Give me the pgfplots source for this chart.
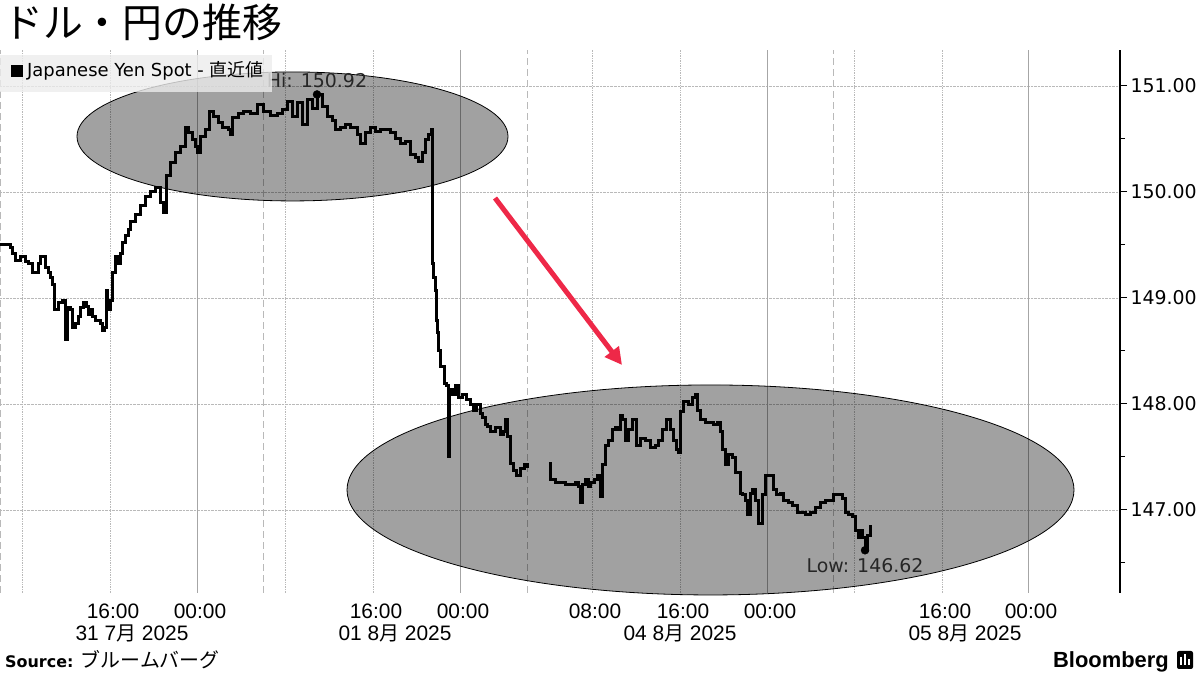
\documentclass[border=0pt]{standalone}
\usepackage{fontspec}
\setmainfont{DejaVu Sans}
\newfontfamily\jp{Noto Sans CJK JP}
\newfontfamily\lib{Liberation Sans}
\usepackage{pgfplots}
\pgfplotsset{compat=1.18}
\usetikzlibrary{arrows.meta}
\definecolor{arrowred}{RGB}{238,40,72}
\definecolor{gridgray}{RGB}{185,185,185}

\begin{document}
\begin{tikzpicture}[x=1bp,y=1bp]
\useasboundingbox (0,0) rectangle (1200,675);
\begin{axis}[
  at={(0bp,82bp)}, anchor=south west,
  scale only axis, width=1120bp, height=543bp,
  xmin=0, xmax=1120, ymin=146.217, ymax=151.3396,
  axis y line*=right, axis x line*=bottom,
  x axis line style={draw=none},
  y axis line style={line width=1.2bp},
  clip=false,
  ytick={147,148,149,150,151},
  minor ytick={146.5,147.5,148.5,149.5,150.5},
  yticklabel={\pgfmathprintnumber[fixed,fixed zerofill,precision=2,assume math mode=true]{\tick}},
  y tick label style={font=\fontsize{19}{19}\selectfont},
  tick align=outside, major tick length=7bp, minor tick length=5bp,
  every tick/.style={black, line width=1bp},
  xtick={110,197,373,460,592,680,767,942,1028},
  xticklabels={16:00,00:00,16:00,00:00,08:00,16:00,00:00,16:00,00:00},
  x tick label style={font=\lib\fontsize{21}{21}\selectfont, xshift=3bp},
  xtick style={draw=none},
  ymajorgrids, grid style={densely dotted, gridgray, line width=0.7bp},
]
% vertical gridlines
\pgfplotsinvokeforeach{22,110,285,373,592,680,854,942}{
  \draw[densely dotted, gridgray, line width=0.7bp] (axis cs:#1,146.217) -- (axis cs:#1,151.3396);}
\pgfplotsinvokeforeach{197,460,767,1028}{
  \draw[gray!70, line width=0.8bp] (axis cs:#1,146.217) -- (axis cs:#1,151.3396);}
\pgfplotsinvokeforeach{0.6,263,527,833}{
  \draw[gridgray, line width=0.8bp, dash pattern=on 7bp off 4bp] (axis cs:#1,146.217) -- (axis cs:#1,151.3396);}
% highlight ellipses
\draw[fill=black, fill opacity=0.37, draw=black, line width=0.8bp]
  (axis cs:292.5,150.524) ellipse [x radius=215.5bp, y radius=64.5bp];
\draw[fill=black, fill opacity=0.37, draw=black, line width=0.8bp]
  (axis cs:710.5,147.189) ellipse [x radius=363.5bp, y radius=105bp];
% arrow
\draw[-{Triangle[length=17bp,width=17bp]}, line width=5bp, arrowred]
  (axis cs:495,149.943) -- (axis cs:622,148.368);

\addplot[const plot, black, line width=3bp] coordinates {
(0,149.500) (6,149.500) (10,149.472) (12,149.424) (15,149.358) (20,149.387)
(25,149.340) (28,149.330) (32,149.236) (38,149.330) (40,149.387) (45,149.292)
(48,149.245) (50,149.198) (52,149.123) (54,148.887) (58,148.962) (62,148.981)
(64,148.981) (65,148.604) (66,148.604) (67,148.906) (70,148.887) (72,148.726)
(75,148.764) (78,148.821) (80,148.906) (83,148.953) (86,148.915) (88,148.840)
(90,148.887) (92,148.821) (95,148.792) (98,148.792) (100,148.764) (102,148.698)
(104,148.717) (106,149.075) (107,148.887) (110,148.981) (112,149.245) (115,149.387)
(118,149.330) (120,149.424) (122,149.519) (125,149.594) (128,149.642) (130,149.717)
(135,149.783) (140,149.877) (145,149.953) (150,150.000) (155,150.047) (158,150.047)
(160,149.900) (163,149.810) (166,150.160) (170,150.274) (175,150.368) (180,150.425)
(185,150.604) (188,150.557) (192,150.491) (195,150.425) (197,150.368) (200,150.519)
(205,150.585) (209,150.755) (213,150.708) (218,150.660) (222,150.613) (228,150.585)
(230,150.538) (232,150.698) (238,150.745) (243,150.755) (250,150.745) (257,150.821)
(263,150.755) (270,150.726) (277,150.745) (282,150.774) (287,150.849) (292,150.708)
(297,150.840) (302,150.632) (307,150.868) (312,150.792) (317,150.920) (322,150.802)
(327,150.708) (332,150.679) (335,150.585) (340,150.613) (345,150.632) (350,150.613)
(357,150.538) (360,150.462) (365,150.557) (370,150.613) (375,150.566) (380,150.585)
(385,150.585) (390,150.557) (395,150.509) (400,150.462) (405,150.472) (410,150.349)
(415,150.321) (418,150.283) (422,150.377) (425,150.491) (428,150.538) (431,150.585)
(432,149.330) (433,149.198) (435,149.075) (436,148.792) (437,148.670) (438,148.509)
(440,148.349) (444,148.198) (446,148.179) (448,147.500) (449,148.132) (452,148.085)
(455,148.179) (458,148.057) (462,148.085) (466,148.038) (470,147.991) (473,147.943)
(476,147.991) (480,147.915) (482,147.877) (485,147.802) (487,147.783) (490,147.736)
(495,147.774) (500,147.708) (503,147.736) (505,147.849) (507,147.689) (510,147.443)
(513,147.377) (516,147.330) (520,147.396) (524,147.425) (527,147.396)
};
\addplot[const plot, black, line width=3bp] coordinates {
(549,147.443) (550,147.283) (555,147.264) (560,147.255) (565,147.236) (570,147.245)
(575,147.255) (578,147.217) (580,147.066) (582,147.236) (585,147.283) (588,147.217)
(590,147.264) (594,147.283) (597,147.330) (600,147.123) (602,147.425) (605,147.613)
(608,147.660) (612,147.755) (615,147.774) (618,147.755) (620,147.896) (622,147.849)
(625,147.660) (628,147.755) (632,147.849) (636,147.613) (640,147.679) (645,147.660)
(650,147.585) (655,147.613) (658,147.660) (662,147.755) (666,147.849) (670,147.755)
(673,147.660) (676,147.566) (678,147.538) (680,147.925) (683,148.019) (688,147.991)
(692,148.057) (695,148.085) (697,147.943) (700,147.849) (705,147.830) (710,147.821)
(713,147.802) (717,147.821) (720,147.736) (722,147.566) (725,147.425) (728,147.519)
(732,147.491) (735,147.349) (740,147.160) (742,147.142) (745,147.094) (747,146.953)
(750,147.160) (752,147.189) (755,147.094) (758,146.877) (762,147.142) (765,147.330)
(770,147.330) (773,147.189) (776,147.142) (780,147.160) (783,147.094) (788,147.066)
(792,147.047) (797,146.981) (800,146.981) (805,146.953) (810,146.972) (815,147.019)
(820,147.066) (825,147.094) (828,147.094) (833,147.142) (838,147.142) (842,147.113)
(845,146.972) (848,146.953) (852,146.934) (855,146.811) (858,146.736) (860,146.811)
(862,146.736) (865,146.620) (867,146.764) (870,146.858)
};
\addplot[only marks, mark=*, mark size=4bp, black] coordinates {(317,150.92) (865,146.62)};
\node[anchor=base, font=\fontsize{19}{19}\selectfont, text=black!85] at (axis cs:317,150.981) {Hi: 150.92};
\node[anchor=base, font=\fontsize{19}{19}\selectfont, text=black!85] at (axis cs:865,146.406) {Low: 146.62};
\end{axis}
% date labels
\node[anchor=base, font=\lib\fontsize{21}{21}\selectfont] at (132,34) {31 7{\jp\fontsize{20}{20}\selectfont 月} 2025};
\node[anchor=base, font=\lib\fontsize{21}{21}\selectfont] at (395,34) {01 8{\jp\fontsize{20}{20}\selectfont 月} 2025};
\node[anchor=base, font=\lib\fontsize{21}{21}\selectfont] at (680,34) {04 8{\jp\fontsize{20}{20}\selectfont 月} 2025};
\node[anchor=base, font=\lib\fontsize{21}{21}\selectfont] at (965,34) {05 8{\jp\fontsize{20}{20}\selectfont 月} 2025};
% legend
\fill[gray!15, fill opacity=0.8] (0,583) rectangle (272,620);
\fill (11,598) rectangle (23,610);
\node[anchor=base west, inner sep=0] at (27,598) {\fontsize{18}{18}\selectfont Japanese Yen Spot - {\jp 直近値}};
% title
\node[anchor=north west, inner sep=0] at (3,671) {\jp\fontsize{40}{40}\selectfont ドル・円の推移};
% source
\node[anchor=base west, inner sep=0] at (5,7) {\fontsize{16}{16}\selectfont\bfseries Source: {\jp\mdseries\fontsize{20}{20}\selectfont ブルームバーグ}};
% Bloomberg
\node[anchor=base east, inner sep=0] at (1169,7) {\lib\bfseries\fontsize{22}{22}\selectfont Bloomberg};
\fill[rounded corners=2bp] (1177,6) rectangle (1193,24);
\fill[white] (1180,10) rectangle (1182,18);
\fill[white] (1184,10) rectangle (1186,21);
\fill[white] (1188,10) rectangle (1190,16);
\end{tikzpicture}
\end{document}
